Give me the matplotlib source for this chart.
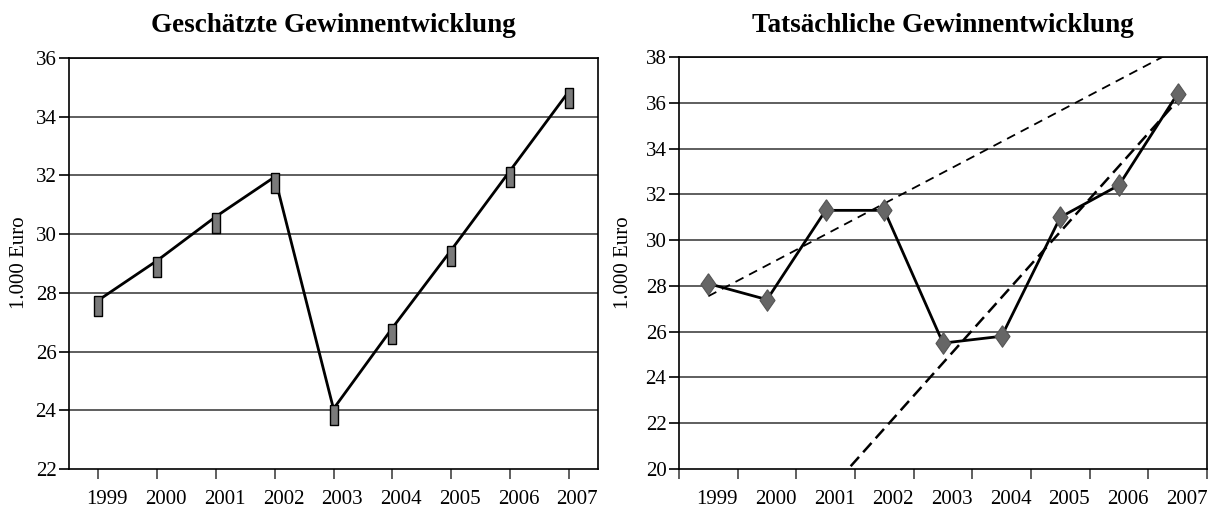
import matplotlib
matplotlib.use("Agg")
import matplotlib.pyplot as plt
import numpy as np

plt.rcParams['font.family'] = ['Liberation Serif', 'DejaVu Serif']

# Daten
jahre = ['1999', '2000', '2001', '2002', '2003', '2004', '2005', '2006', '2007']
geschaetzt = [27.75, 29.1, 30.6, 31.95, 24.05, 26.8, 29.45, 32.15, 34.85]
tatsaechlich = [28.1, 27.4, 31.3, 31.3, 25.5, 25.8, 31.0, 32.4, 36.4]

# Trendlinien (Position in Jahren ab 1999, Wert)
trend_flach_pos = [0, 8]
trend_flach_wert = [27.55, 38.35]
trend_steil_pos = [2, 8]
trend_steil_wert = [18.9, 36.1]

ticks_links = [22, 24, 26, 28, 30, 32, 34, 36]
ticks_rechts = [20, 22, 24, 26, 28, 30, 32, 34, 36, 38]

fig = plt.figure(figsize=(12.12, 5.09), dpi=100)

ax1 = fig.add_axes([69 / 1212, 1 - 469 / 509, 529 / 1212, 411 / 509])
ax2 = fig.add_axes([679 / 1212, 1 - 469 / 509, 528 / 1212, 412 / 509])

x = np.arange(len(jahre))
label_offset = 0.15

rechteck = [(-4, 4), (4, 4), (4, -15), (-4, -15), (-4, 4)]
raute = [(0, 10), (7, 0), (0, -10), (-7, 0), (0, 10)]


def achse_stil(ax, yticks):
    ax.set_ylim(yticks[0], yticks[-1])
    ax.set_yticks(yticks)
    ax.set_xlim(-0.5, len(jahre) - 0.5)
    for y in yticks[1:]:
        ax.axhline(y, color='#333333', lw=1.1, zorder=0)
    for s in ax.spines.values():
        s.set_color('black')
        s.set_linewidth(1.2)
    ax.tick_params(axis='y', direction='out', length=7, width=1.2, pad=2,
                   labelsize=15)
    ax.tick_params(axis='x', which='major', direction='out', length=7,
                   width=1.2, labelbottom=False, color='#444444')
    ax.set_xticks(x + label_offset, minor=True)
    ax.set_xticklabels(jahre, minor=True)
    ax.tick_params(axis='x', which='minor', length=0, pad=15, labelsize=15)


# links: geschätzt
achse_stil(ax1, ticks_links)
ax1.set_xticks(x)
ax1.plot(x, geschaetzt, color='black', lw=2, zorder=3)
ax1.plot(x, geschaetzt, ls='none', marker=rechteck, markersize=22.5,
         markerfacecolor='#7a7a7a', markeredgecolor='black',
         markeredgewidth=1, zorder=4)

# rechts: tatsächlich
achse_stil(ax2, ticks_rechts)
ax2.set_xticks(np.arange(-0.5, len(jahre), 1.0))
ax2.plot(trend_flach_pos, trend_flach_wert, color='black', lw=1.3,
         dashes=(5, 3.5), zorder=2)
ax2.plot(trend_steil_pos, trend_steil_wert, color='black', lw=1.8,
         dashes=(5, 2.5), zorder=2)
ax2.plot(x, tatsaechlich, color='black', lw=2, zorder=3)
ax2.plot(x, tatsaechlich, ls='none', marker=raute, markersize=15.5,
         markerfacecolor='#666666', markeredgecolor='#555555',
         markeredgewidth=0.8, zorder=4)

fig.text((69 + 598) / 2 / 1212, 1 - 26 / 509, 'Geschätzte Gewinnentwicklung',
         ha='center', va='center', fontsize=19.5, fontweight='bold')
fig.text((679 + 1207) / 2 / 1212, 1 - 26 / 509, 'Tatsächliche Gewinnentwicklung',
         ha='center', va='center', fontsize=19.5, fontweight='bold')
fig.text(20 / 1212, 1 - 263 / 509, '1.000 Euro', rotation=90,
         ha='center', va='center', fontsize=15)
fig.text(623 / 1212, 1 - 263 / 509, '1.000 Euro', rotation=90,
         ha='center', va='center', fontsize=15)

fig.savefig('out.png', dpi=100)
